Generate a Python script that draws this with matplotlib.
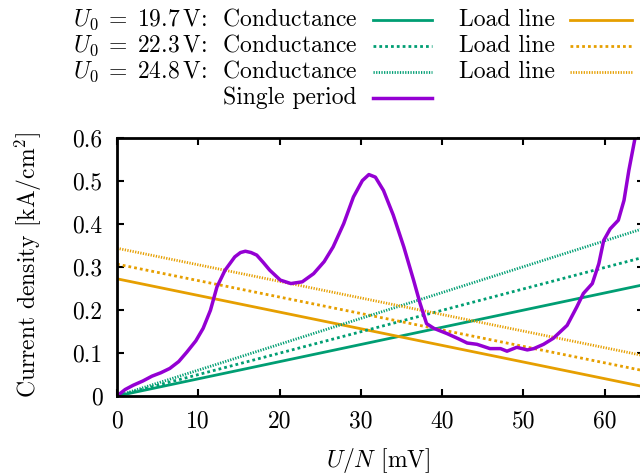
import matplotlib
matplotlib.use("Agg")
import matplotlib.pyplot as plt
from matplotlib.lines import Line2D

plt.rcParams["font.family"] = "serif"
plt.rcParams["font.serif"] = ["cmr10"]
plt.rcParams["mathtext.fontset"] = "cm"
plt.rcParams["axes.unicode_minus"] = False
plt.rcParams["axes.formatter.use_mathtext"] = True

# Spannungen U0 und Geraden (Endpunkte bei x = 0 und x = 65)
u0_labels = ["19.7", "22.3", "24.8"]
line_x = [0, 65]
cond_y = [[0, 0.259], [0, 0.323], [0, 0.390]]
load_y = [[0.272, 0.021], [0.306, 0.058], [0.343, 0.093]]

# Einzelperiode
period_x = [0, 1.0, 2.0, 3.2, 4.3, 5.4, 6.5, 7.6, 8.6, 9.7, 10.6, 11.5, 12.3,
            13.3, 14.5, 15.2, 15.8, 16.5, 17.2, 18.0, 18.8, 20.1, 21.4, 22.8,
            24.2, 25.5, 26.6, 27.9, 29.1, 30.2, 31.0, 31.8, 32.8, 34.0, 35.3,
            36.5, 37.3, 38.1, 39.0, 40.6, 42.0, 43.1, 44.3, 45.9, 47.2, 48.0,
            49.2, 50.5, 51.3, 52.5, 53.7, 55.4, 56.6, 57.4, 58.5, 59.3, 59.9,
            60.7, 61.7, 62.4, 63.0, 63.7, 64.2]
period_y = [0, 0.015, 0.025, 0.035, 0.046, 0.054, 0.064, 0.080, 0.102, 0.128,
            0.157, 0.199, 0.253, 0.292, 0.323, 0.333, 0.336, 0.333, 0.327,
            0.310, 0.292, 0.269, 0.261, 0.265, 0.284, 0.312, 0.346, 0.400,
            0.462, 0.500, 0.514, 0.508, 0.477, 0.420, 0.346, 0.269, 0.215,
            0.168, 0.157, 0.145, 0.133, 0.123, 0.120, 0.110, 0.110, 0.104,
            0.113, 0.107, 0.110, 0.120, 0.134, 0.164, 0.207, 0.238, 0.261,
            0.307, 0.361, 0.388, 0.408, 0.454, 0.524, 0.593, 0.650]

x_ticks = [0, 10, 20, 30, 40, 50, 60]
y_ticks = [0, 0.1, 0.2, 0.3, 0.4, 0.5, 0.6]

GREEN = "#009e73"
ORANGE = "#e69f00"
PURPLE = "#9400d3"
styles = ["-", (0, (1, 1.1)), (0, (0.45, 0.5))]
FS = 17

W, H = 640, 473
fig = plt.figure(figsize=(6.4, 4.73), dpi=100)
ax = fig.add_axes([117 / W, (H - 396) / H, (643.5 - 117) / W, (396 - 137.5) / H])

for i in range(3):
    ax.plot(line_x, cond_y[i], color=GREEN, lw=2.0, linestyle=styles[i])
    ax.plot(line_x, load_y[i], color=ORANGE, lw=2.0, linestyle=styles[i])
ax.plot(period_x, period_y, color=PURPLE, lw=2.5, solid_joinstyle="round",
        solid_capstyle="round")

ax.set_xlim(0, 64.8)
ax.set_ylim(0, 0.6)
ax.set_xticks(x_ticks)
ax.set_yticks(y_ticks)
ax.set_xticklabels([f"{v:g}" for v in x_ticks])
ax.set_yticklabels([f"{v:g}" for v in y_ticks])
ax.tick_params(direction="in", length=4.7, width=1.5, top=True, right=True,
               labelsize=FS, pad=10.5)
for s in ax.spines.values():
    s.set_linewidth(2.0)

fig.text(378 / W, 1 - 460 / H, r"$U/N$ [mV]", ha="center", va="center", fontsize=FS)
fig.text(28 / W, 1 - 265 / H, r"Current density [kA/cm$^2$]", ha="center",
         va="center", rotation=90, fontsize=FS)

# Legende im gnuplot-Stil
rows = [26, 52, 78, 104]
for i in range(3):
    yb = 1 - rows[i] / H
    ys = 1 - (rows[i] - 6) / H
    fig.text(357 / W, yb,
             rf"$U_0\;=\;{u0_labels[i]}\,\mathrm{{V}}$:  Conductance",
             ha="right", va="baseline", fontsize=FS)
    fig.add_artist(Line2D([373 / W, 432 / W], [ys, ys], color=GREEN, lw=2.0,
                          linestyle=styles[i]))
    fig.text(555 / W, yb, "Load line", ha="right", va="baseline", fontsize=FS)
    fig.add_artist(Line2D([570 / W, 632 / W], [ys, ys], color=ORANGE, lw=2.0,
                          linestyle=styles[i]))
yb = 1 - rows[3] / H
ys = 1 - (rows[3] - 6) / H
fig.text(357 / W, yb, "Single period", ha="right", va="baseline", fontsize=FS)
fig.add_artist(Line2D([373 / W, 432 / W], [ys, ys], color=PURPLE, lw=2.5))

fig.savefig("out.png", dpi=100)
